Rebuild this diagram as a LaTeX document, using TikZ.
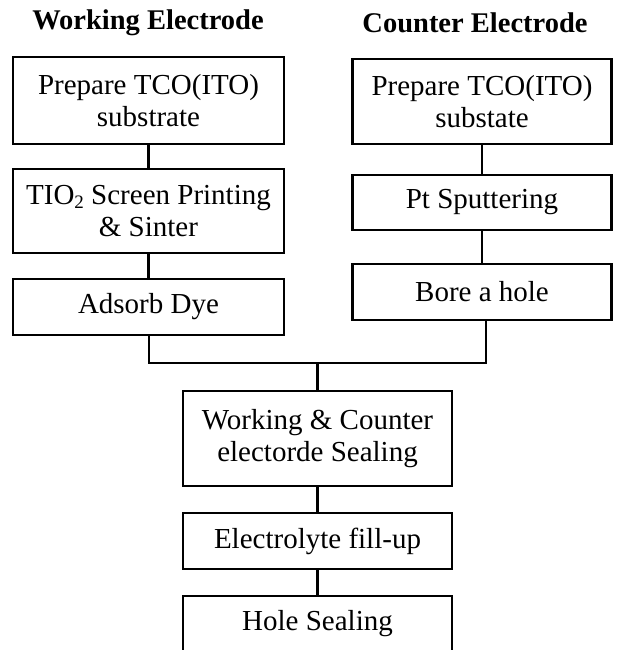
\documentclass[tikz,border=0pt]{standalone}
\usepackage{fontspec}
\setmainfont{Liberation Serif}
\newcommand{\subtwo}{\raisebox{-0.3ex}{\fontsize{19}{19}\selectfont 2}}
\begin{document}
\begin{tikzpicture}[x=1pt,y=-1pt,
  every node/.style={font=\fontsize{29}{32}\selectfont},
  box/.style={draw=black, line width=2.4pt, rectangle, align=center, inner sep=0pt},
  link/.style={draw=black, line width=2.6pt},
  ttl/.style={font=\fontsize{28.5}{32}\selectfont\bfseries}]
\useasboundingbox (0,0) rectangle (622,650);
\node[ttl] (tw) at (148,23) {Working Electrode};
\node[ttl] (tc) at (475,23) {Counter Electrode};
% left column
\node[box, minimum width=271pt, minimum height=87pt] (l1) at (148.5,100.5) {Prepare TCO(ITO)\\substrate};
\node[box, minimum width=271pt, minimum height=84pt] (l2) at (148.5,211) {TIO\subtwo{} Screen Printing\\\& Sinter};
\node[box, minimum width=271pt, minimum height=56pt] (l3) at (148.5,307) {Adsorb Dye};
% right column
\node[box, minimum width=259pt, minimum height=85pt] (r1) at (482,101.5) {Prepare TCO(ITO)\\substate};
\node[box, minimum width=259pt, minimum height=55pt] (r2) at (482,202.5) {Pt Sputtering};
\node[box, minimum width=259pt, minimum height=56pt] (r3) at (482,292) {Bore a hole};
% center column
\node[box, minimum width=269pt, minimum height=95pt] (c1) at (317.5,438.5) {Working \& Counter\\electorde Sealing};
\node[box, minimum width=269pt, minimum height=56pt] (c2) at (317.5,541) {Electrolyte fill-up};
\node[box, minimum width=269pt, minimum height=56pt] (c3) at (317.5,624) {Hole Sealing};
\coordinate (jl) at (149,363);
\coordinate (jr) at (486,363);
\coordinate (jm) at (317.5,363);
% connectors
\draw[link] (l1.south) -- (l2.north);
\draw[link] (l2.south) -- (l3.north);
\draw[link] (r1.south) -- (r2.north);
\draw[link] (r2.south) -- (r3.north);
\draw[link] (l3.south -| jl) -- (jl) -- (jr) -- (r3.south -| jr);
\draw[link] (jm) -- (c1.north);
\draw[link] (c1.south) -- (c2.north);
\draw[link] (c2.south) -- (c3.north);
\end{tikzpicture}
\end{document}
